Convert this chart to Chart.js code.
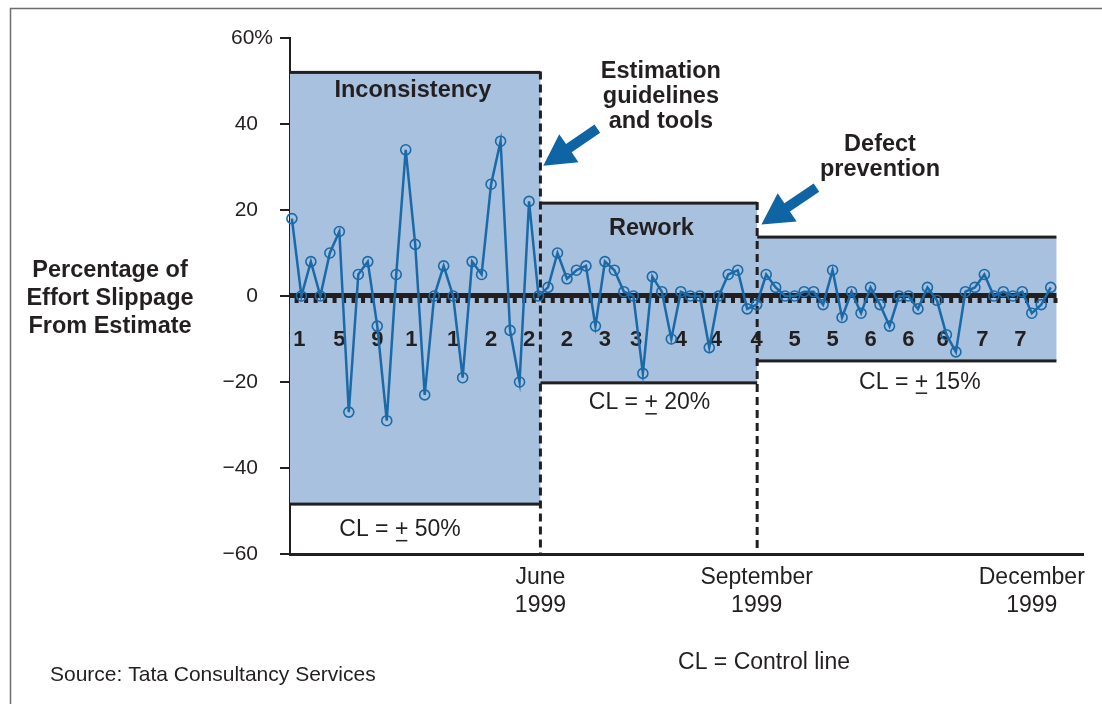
<!DOCTYPE html>
<html>
<head>
<meta charset="utf-8">
<script src="https://cdn.jsdelivr.net/npm/chart.js@4"></script>
<style>
  body { margin: 0; background: #fff; }
  canvas { display: block; }
</style>
</head>
<body>
<canvas id="slippage" width="1102" height="704"></canvas>
<script>
// effort slippage per project, in order of completion (%)
const slippage = [
  18, 0, 8, 0, 10, 15, -27, 5, 8, -7, -29, 5, 34, 12, -23, 0, 7, 0, -19, 8, 5, 26, 36, -8, -20, 22, 0,
  2, 10, 4, 6, 7, -7, 8, 6, 1, 0, -18, 4.5, 1, -10, 1, 0, 0, -12, 0, 5, 6, -3, -2,
  5, 2, 0, 0, 1, 1, -2, 6, -5, 1, -4, 2, -2, -7, 0,
  0, -3, 2, -1, -9, -13, 1, 2, 5, 0, 1, 0, 1, -4, -2, 2
];

// phases: start / end (project index), control limits
const phaseStart = [-0.2, 26.2, 49.05];
const phaseEnd = [26.2, 49.05, 80.6];
const upperCL = [52, 21.6, 13.7];
const lowerCL = [-48.4, -20.2, -15.1];
const phaseNames = ["Inconsistency", "Rework", ""];
const clValues = ["50%", "20%", "15%"];

// month markers on the x axis
const monthAt = [26.2, 49, 78];
const monthLabels = [["June", "1999"], ["September", "1999"], ["December", "1999"]];

// running numbers under the zero line
const sampleLabels = ["1", "5", "9", "1", "1", "2", "2", "2", "3", "3", "4", "4", "4", "5", "5", "6", "6", "6", "7", "7"];
const sampleAt = [0.8, 5, 9, 12.6, 17, 21, 25, 29, 33, 36.3, 41, 44.7, 49, 53, 57, 61, 65, 68.6, 72.8, 76.8];

const yTicks = [60, 40, 20, 0, -20, -40, -60];

const INK = "#231f20";
const BLUE = "#1b6aa8";
const FILL = "#a7c1df";
const FONT = "'Liberation Sans', Arial, Helvetica, sans-serif";

function arrow(ctx, x1, y1, x2, y2) {
  const a = Math.atan2(y2 - y1, x2 - x1);
  const len = Math.hypot(x2 - x1, y2 - y1);
  const head = 31, hw = 17, sw = 5;
  ctx.save();
  ctx.translate(x1, y1);
  ctx.rotate(a);
  ctx.fillStyle = "#0f64a4";
  ctx.beginPath();
  ctx.moveTo(0, -sw);
  ctx.lineTo(len - head, -sw);
  ctx.lineTo(len - head, -hw);
  ctx.lineTo(len, 0);
  ctx.lineTo(len - head, hw);
  ctx.lineTo(len - head, sw);
  ctx.lineTo(0, sw);
  ctx.closePath();
  ctx.fill();
  ctx.restore();
}

function clLabel(ctx, cx, cy, val) {
  const a = "CL = ", p = "+", b = " " + val;
  const wa = ctx.measureText(a).width, wp = ctx.measureText(p).width, wb = ctx.measureText(b).width;
  let x = cx - (wa + wp + wb) / 2;
  ctx.textAlign = "left";
  ctx.fillText(a, x, cy);
  ctx.fillText(p, x + wa, cy);
  ctx.fillText(b, x + wa + wp, cy);
  ctx.fillRect(x + wa + 1, cy + 10, wp - 2, 1.5);
}

const backdrop = {
  id: "backdrop",
  beforeDraw(chart) {
    const ctx = chart.ctx;
    ctx.save();
    ctx.fillStyle = "#fff";
    ctx.fillRect(0, 0, chart.width, chart.height);
    ctx.strokeStyle = "#6d6d6d";
    ctx.lineWidth = 1.5;
    ctx.beginPath();
    ctx.moveTo(10.5, chart.height);
    ctx.lineTo(10.5, 8.5);
    ctx.lineTo(chart.width, 8.5);
    ctx.stroke();
    ctx.restore();
  },
  beforeDatasetsDraw(chart) {
    const ctx = chart.ctx, x = chart.scales.x, y = chart.scales.y;
    ctx.save();
    // control-limit bands
    for (let i = 0; i < phaseStart.length; i++) {
      const l = x.getPixelForValue(phaseStart[i]), r = x.getPixelForValue(phaseEnd[i]);
      const t = y.getPixelForValue(upperCL[i]), b = y.getPixelForValue(lowerCL[i]);
      ctx.fillStyle = FILL;
      ctx.fillRect(l, t, r - l, b - t);
      ctx.fillStyle = INK;
      ctx.fillRect(l, t - 1.5, r - l, 3);
      ctx.fillRect(l, b - 1.5, r - l, 3);
    }
    // zero line with tick marks
    const y0 = y.getPixelForValue(0);
    const left = x.left, right = x.getPixelForValue(phaseEnd[2]);
    ctx.fillStyle = INK;
    ctx.fillRect(left, y0 - 3, right - left, 5);
    for (let i = -1; i < slippage.length; i++) {
      const px = x.getPixelForValue(i + 0.5);
      if (px < left || px > right) continue;
      ctx.fillRect(px - 2, y0 + 2, 4, 5);
    }
    // phase dividers
    ctx.strokeStyle = INK;
    ctx.lineWidth = 3;
    ctx.setLineDash([8, 5]);
    for (let i = 1; i < phaseStart.length; i++) {
      const px = x.getPixelForValue(phaseStart[i]);
      ctx.beginPath();
      ctx.moveTo(px, y.getPixelForValue(upperCL[i - 1]) - 1);
      ctx.lineTo(px, y.bottom + 2);
      ctx.stroke();
    }
    ctx.setLineDash([]);
    // running numbers
    ctx.font = "bold 22px " + FONT;
    ctx.textAlign = "center";
    ctx.textBaseline = "middle";
    const yn = y.getPixelForValue(-10.2);
    sampleLabels.forEach((s, i) => ctx.fillText(s, x.getPixelForValue(sampleAt[i]), yn));
    ctx.restore();
  },
  afterDraw(chart) {
    const ctx = chart.ctx, x = chart.scales.x, y = chart.scales.y;
    const P = (i, v) => [x.getPixelForValue(i), y.getPixelForValue(v)];
    ctx.save();
    ctx.fillStyle = INK;
    ctx.textBaseline = "middle";

    // top tick carries the unit
    ctx.font = "21px " + FONT;
    ctx.textAlign = "right";
    ctx.fillText("60%", x.left - 17, y.getPixelForValue(60));

    // phase names
    ctx.font = "bold 23.5px " + FONT;
    ctx.textAlign = "center";
    let p = P(12.75, 47.7);
    ctx.fillText(phaseNames[0], p[0], p[1]);
    p = P(37.9, 15.8);
    ctx.fillText(phaseNames[1], p[0], p[1]);

    // event callouts
    ["Estimation", "guidelines", "and tools"].forEach((s, k) => {
      const q = P(38.9, 52.1 - k * 5.8);
      ctx.fillText(s, q[0], q[1]);
    });
    ["Defect", "prevention"].forEach((s, k) => {
      const q = P(62, 35.3 - k * 5.8);
      ctx.fillText(s, q[0], q[1]);
    });
    let a = P(32.2, 38.9), b = P(26.5, 30.3);
    arrow(ctx, a[0], a[1], b[0], b[1]);
    a = P(55.3, 25.2); b = P(49.5, 16.6);
    arrow(ctx, a[0], a[1], b[0], b[1]);

    // control line labels
    ctx.fillStyle = INK;
    ctx.font = "23px " + FONT;
    p = P(11.4, -54.4); clLabel(ctx, p[0], p[1], clValues[0]);
    p = P(37.7, -24.9); clLabel(ctx, p[0], p[1], clValues[1]);
    p = P(66.2, -20.1); clLabel(ctx, p[0], p[1], clValues[2]);

    // y-axis title
    ctx.font = "bold 23.5px " + FONT;
    ctx.textAlign = "center";
    ["Percentage of", "Effort Slippage", "From Estimate"].forEach((s, k) => ctx.fillText(s, 110, 271 + k * 28));

    // footer
    ctx.font = "21px " + FONT;
    ctx.textAlign = "left";
    ctx.fillText("Source: Tata Consultancy Services", 50, 675);
    ctx.font = "23px " + FONT;
    ctx.textAlign = "center";
    ctx.fillText("CL = Control line", 764, 663);
    ctx.restore();
  }
};

new Chart(document.getElementById("slippage").getContext("2d"), {
  type: "line",
  data: {
    datasets: [
      {
        data: slippage.map((v, i) => ({ x: i, y: v })),
        borderColor: BLUE,
        borderWidth: 2.5,
        pointRadius: 5,
        pointBorderWidth: 1.6,
        pointBorderColor: BLUE,
        pointBackgroundColor: "rgba(0,0,0,0)",
        tension: 0,
        clip: false,
      },
    ],
  },
  options: {
    responsive: false,
    animation: false,
    layout: { padding: { left: 0, top: 38, right: 19, bottom: 90 } },
    plugins: { legend: { display: false }, tooltip: { enabled: false } },
    scales: {
      x: {
        type: "linear",
        min: -0.2,
        max: 83.4,
        afterBuildTicks: (scale) => {
          scale.ticks = monthAt.map((v) => ({ value: v }));
        },
        afterFit: (scale) => {
          scale.height = 60;
        },
        grid: { display: true, drawOnChartArea: false, drawTicks: false },
        border: { display: true, color: INK, width: 3 },
        ticks: {
          autoSkip: false,
          maxRotation: 0,
          padding: 10,
          color: INK,
          font: { family: FONT, size: 23 },
          callback: (v, i) => monthLabels[i],
        },
      },
      y: {
        min: -60,
        max: 60,
        afterBuildTicks: (scale) => {
          scale.ticks = yTicks.map((v) => ({ value: v }));
        },
        afterFit: (scale) => {
          scale.width = 290;
        },
        grid: { display: true, drawOnChartArea: false, drawTicks: true, tickLength: 10, color: INK, lineWidth: 2 },
        border: { display: true, color: INK, width: 2 },
        ticks: {
          padding: 22,
          color: INK,
          font: { family: FONT, size: 21 },
          callback: (v) => (v === 60 ? "" : v < 0 ? "\u2212" + Math.abs(v) : String(v)),
        },
      },
    },
  },
  plugins: [backdrop],
});
</script>
</body>
</html>
